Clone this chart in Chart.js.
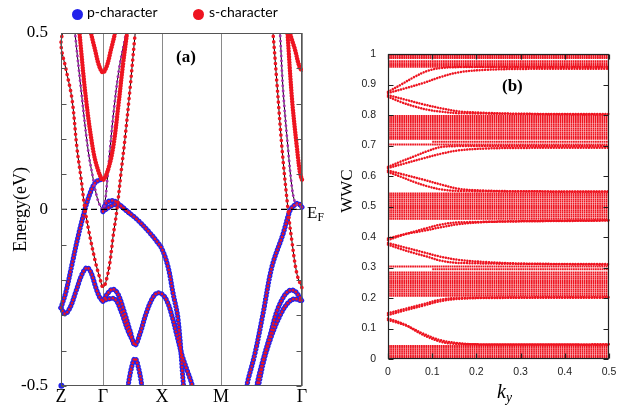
<!DOCTYPE html>
<html><head><meta charset="utf-8">
<script src="https://cdn.jsdelivr.net/npm/chart.js@4.4.1/dist/chart.umd.min.js"></script>
<style>
html,body{margin:0;padding:0;background:#fff;}
#wrap{position:relative;width:629px;height:409px;overflow:hidden;background:#fff;}
canvas{position:absolute;top:0;}
#cA{left:0;} #cB{left:330px;}
.t{position:absolute;white-space:nowrap;line-height:1;color:#000;}
.serif{font-family:'Liberation Serif','DejaVu Serif',serif;}
.lat{font-family:Lato,'Open Sans',sans-serif;font-size:14px;}
.dot{position:absolute;width:11px;height:11px;border-radius:50%;}
sub{font-size:0.68em;vertical-align:-0.3em;}
</style></head><body>
<div id="wrap">
<canvas id="cA" width="330" height="409"></canvas>
<canvas id="cB" width="299" height="409"></canvas>
<div class="dot" style="left:72px;top:9px;background:rgb(35,35,235);"></div>
<div class="t lat" style="left:87px;top:5px;">p-character</div>
<div class="dot" style="left:193px;top:9px;background:rgb(238,20,32);"></div>
<div class="t lat" style="left:209px;top:5px;">s-character</div>
<div class="t serif" style="left:176px;top:48px;font-size:17px;font-weight:bold;">(a)</div>
<div class="t serif" style="left:502px;top:77px;font-size:17px;font-weight:bold;">(b)</div>
<div class="t serif" style="left:307px;top:204px;font-size:17px;">E<sub>F</sub></div>
<div class="t serif" style="left:317px;top:181px;width:60px;height:20px;line-height:20px;text-align:center;font-size:17px;transform:rotate(-90deg);">WWC</div>
<div class="t serif" style="left:497px;top:381px;font-size:20px;font-style:italic;">k<sub>y</sub></div>
</div>
<script>
// ---------- Panel (a): band structure ----------
const kTicks = [0, 0.42, 1.01, 1.60, 2.41];
const kLabels = ['Z', 'Γ', 'X', 'M', 'Γ'];
const energyLabelled = [-0.5, 0, 0.5];
const fermiLevel = [[0, 0], [2.41, 0]];

// s-character bands (black line, red dots)
const sBandA = [[0.035,0.52],[0,0.469],[0.05,0.397],[0.11,0.313],[0.16,0.173],[0.20,0.089],[0.24,0],[0.29,-0.078],[0.35,-0.156],[0.39,-0.196],[0.42,-0.221],[0.45,-0.204],[0.49,-0.148],[0.52,-0.078],[0.56,0],[0.60,0.103],[0.64,0.201],[0.69,0.341],[0.74,0.494],[0.75,0.52]];
const sBandB = [[2.11,0.522],[2.12,0.5],[2.16,0.355],[2.21,0.173],[2.27,0],[2.31,-0.092],[2.36,-0.184],[2.41,-0.223]];
// strong s-character bands around Γ
const sHeavyV = [[0.18,0.52],[0.185,0.5],[0.25,0.313],[0.32,0.17],[0.37,0.112],[0.42,0.084],[0.47,0.112],[0.52,0.173],[0.57,0.285],[0.62,0.411],[0.66,0.5],[0.665,0.52]];
const sHeavyVr = [[2.26,0.52],[2.265,0.5],[2.31,0.313],[2.36,0.173],[2.39,0.103],[2.41,0.084]];
const sHeavyU = [[0.292,0.52],[0.30,0.5],[0.34,0.453],[0.38,0.408],[0.42,0.388],[0.46,0.408],[0.50,0.453],[0.54,0.5],[0.548,0.52]];
const sHeavyUr = [[2.285,0.52],[2.29,0.5],[2.34,0.453],[2.38,0.408],[2.41,0.391]];
// mixed bands (black line, small purple dots)
const mBandA = [[0.135,0.52],[0.14,0.5],[0.20,0.341],[0.27,0.17],[0.32,0.089],[0.37,0.025],[0.42,0],[0.44,0.02],[0.46,0.075],[0.49,0.17],[0.53,0.285],[0.58,0.397],[0.65,0.5],[0.655,0.52]];
const mBandB = [[2.18,0.52],[2.19,0.5],[2.22,0.341],[2.27,0.173],[2.31,0.061],[2.34,0.02],[2.37,0.01],[2.41,0.006]];
// p-character bands (blue rings)
const pCross = [[0,-0.279],[0.05,-0.233],[0.11,-0.156],[0.17,-0.078],[0.24,0],[0.29,0.045],[0.34,0.075],[0.39,0.084],[0.42,0.084]];
const pPeak = [[0,-0.279],[0.04,-0.296],[0.09,-0.279],[0.15,-0.232],[0.21,-0.184],[0.26,-0.165],[0.30,-0.179],[0.35,-0.223],[0.39,-0.251],[0.42,-0.260]];
const pToX = [[0.42,0],[0.46,0.02],[0.52,0.025],[0.57,0.017],[0.64,0],[0.77,-0.031],[0.89,-0.067],[0.97,-0.095],[1.01,-0.112],[1.07,-0.162],[1.12,-0.237],[1.17,-0.31],[1.22,-0.483],[1.23,-0.52]];
const pToX2 = [[0.42,-0.006],[0.48,0.006],[0.54,0.014],[0.59,0.011],[0.64,0],[0.70,-0.014]];
const pValleyUpper = [[0.42,-0.26],[0.47,-0.237],[0.52,-0.226],[0.57,-0.24],[0.63,-0.288],[0.69,-0.344],[0.74,-0.385],[0.79,-0.352],[0.85,-0.296],[0.91,-0.254],[0.96,-0.237],[1.01,-0.24],[1.06,-0.26],[1.11,-0.302],[1.16,-0.358],[1.21,-0.413],[1.26,-0.455],[1.31,-0.497],[1.32,-0.52]];
const pValleyLower = [[0.42,-0.26],[0.47,-0.254],[0.54,-0.254],[0.60,-0.288],[0.67,-0.344],[0.74,-0.385]];
const pSmallPeak = [[0.66,-0.52],[0.70,-0.455],[0.74,-0.422],[0.78,-0.455],[0.82,-0.52]];
const pSteepR = [[1.855,-0.52],[1.86,-0.497],[1.94,-0.408],[2.02,-0.296],[2.11,-0.162],[2.22,-0.07],[2.29,-0.003],[2.33,0.011],[2.36,0.017],[2.39,0.014],[2.41,0.006]];
const pUpperR = [[1.955,-0.52],[1.96,-0.497],[2.02,-0.427],[2.09,-0.358],[2.16,-0.288],[2.23,-0.246],[2.29,-0.229],[2.34,-0.232],[2.38,-0.246],[2.41,-0.26]];
const pLowerR = [[1.96,-0.52],[2.03,-0.427],[2.10,-0.363],[2.18,-0.307],[2.26,-0.268],[2.33,-0.254],[2.41,-0.26]];
const pDotZ = [[0.004,-0.5]];

// ---------- Panel (b): Wannier charge centres ----------
const kyTickValues = [0, 0.1, 0.2, 0.3, 0.4, 0.5];
const wccTickValues = [0, 0.1, 0.2, 0.3, 0.4, 0.5, 0.6, 0.7, 0.8, 0.9, 1];
const wccRowsTop = [0.997, 0.992, 0.987, 0.976, 0.970, 0.964, 0.958];
const wccRowsUpper = [0.797, 0.790, 0.784, 0.777, 0.770, 0.763, 0.756, 0.749, 0.742, 0.735, 0.728, 0.722, 0.703];
const wccRowsMiddle = [0.543, 0.537, 0.530, 0.523, 0.516, 0.509, 0.502, 0.495, 0.488, 0.481, 0.474, 0.467, 0.460];
const wccRowsLower = [0.303, 0.284, 0.277, 0.270, 0.263, 0.256, 0.249, 0.242, 0.235, 0.228, 0.221, 0.214, 0.207];
const wccRowsBottom = [0.043, 0.037, 0.030, 0.024, 0.017, 0.010, 0.004];
const wccLateRows = [0.712, 0.294];
const wccLateStart = [0.10, 0.10];
const wccCurves = [
  [[0,0.876],[0.03,0.9],[0.06,0.925],[0.09,0.945],[0.12,0.954],[0.16,0.957],[0.5,0.957]],
  [[0,0.872],[0.04,0.888],[0.08,0.905],[0.12,0.925],[0.16,0.94],[0.22,0.948],[0.3,0.951],[0.5,0.952]],
  [[0,0.865],[0.04,0.85],[0.08,0.835],[0.12,0.822],[0.16,0.812],[0.22,0.807],[0.3,0.804],[0.5,0.803]],
  [[0,0.86],[0.03,0.842],[0.06,0.828],[0.09,0.817],[0.12,0.811],[0.16,0.806],[0.5,0.801]],
  [[0,0.63],[0.03,0.648],[0.06,0.665],[0.09,0.682],[0.12,0.695],[0.16,0.698],[0.5,0.698]],
  [[0,0.626],[0.04,0.642],[0.08,0.658],[0.12,0.673],[0.16,0.684],[0.22,0.69],[0.3,0.692],[0.5,0.693]],
  [[0,0.618],[0.04,0.603],[0.08,0.588],[0.12,0.572],[0.16,0.558],[0.22,0.552],[0.3,0.55],[0.5,0.549]],
  [[0,0.613],[0.03,0.597],[0.06,0.58],[0.09,0.566],[0.12,0.556],[0.16,0.551],[0.5,0.548]],
  [[0,0.39],[0.03,0.405],[0.06,0.418],[0.09,0.43],[0.12,0.441],[0.16,0.448],[0.5,0.454]],
  [[0,0.395],[0.04,0.41],[0.08,0.42],[0.12,0.432],[0.16,0.442],[0.22,0.449],[0.3,0.452],[0.5,0.455]],
  [[0,0.38],[0.04,0.365],[0.08,0.35],[0.12,0.335],[0.16,0.325],[0.22,0.318],[0.3,0.313],[0.5,0.311]],
  [[0,0.375],[0.03,0.36],[0.06,0.347],[0.09,0.335],[0.12,0.322],[0.16,0.315],[0.5,0.309]],
  [[0,0.144],[0.04,0.16],[0.08,0.175],[0.12,0.19],[0.16,0.197],[0.22,0.2],[0.5,0.201]],
  [[0,0.15],[0.04,0.165],[0.08,0.18],[0.12,0.195],[0.16,0.2],[0.5,0.203]],
  [[0,0.133],[0.04,0.112],[0.065,0.09],[0.09,0.072],[0.118,0.057],[0.14,0.051],[0.2,0.048],[0.5,0.047]],
  [[0,0.128],[0.04,0.11],[0.08,0.083],[0.118,0.062],[0.16,0.052],[0.2,0.048],[0.5,0.048]]
];

// ---------- styling / construction ----------
const RED = 'rgb(238,20,32)';
const BLUE = 'rgb(35,35,235)';
const PURPLE = 'rgb(165,45,175)';
const SERIF = "'Liberation Serif','DejaVu Serif',serif";
const SANS = "'Liberation Sans','DejaVu Sans',sans-serif";

function pts(a){ return a.map(p => ({x: p[0], y: p[1]})); }
function line(a, o){
  return Object.assign({data: pts(a), showLine: true, pointRadius: 0, pointHoverRadius: 0,
    tension: 0.35, fill: false, clip: {left: 5, right: 5, top: 0, bottom: 0}}, o);
}
const dsA = [];
function blackLine(b){ dsA.push(line(b, {borderColor: '#000', borderWidth: 1, order: 6})); }
[sBandA, sBandB].forEach(b => { blackLine(b);
  dsA.push(line(b, {borderColor: RED, borderWidth: 3.6, borderDash: [0.01, 5.5], borderCapStyle: 'round', order: 2})); });
[sHeavyV, sHeavyVr, sHeavyU, sHeavyUr].forEach(b => { blackLine(b);
  dsA.push(line(b, {borderColor: RED, borderWidth: 4.4, borderDash: [0.01, 2.8], borderCapStyle: 'round', order: 2})); });
[mBandA, mBandB].forEach(b => { blackLine(b);
  dsA.push(line(b, {borderColor: PURPLE, borderWidth: 2.8, borderDash: [0.01, 5], borderCapStyle: 'round', order: 3})); });
[pCross, pPeak, pToX, pToX2, pValleyUpper, pValleyLower, pSmallPeak, pSteepR, pUpperR, pLowerR].forEach(b => { blackLine(b);
  dsA.push(line(b, {borderColor: BLUE, borderWidth: 5.2, borderDash: [0.01, 3.4], borderCapStyle: 'round', order: 4}));
  dsA.push(line(b, {borderColor: RED, borderWidth: 2.6, borderDash: [0.01, 3.4], borderCapStyle: 'round', order: 3})); });
dsA.push({data: pts(pDotZ), showLine: false, pointRadius: 3, pointBackgroundColor: BLUE, pointBorderWidth: 0, order: 3, clip: 5});
dsA.push(line(fermiLevel, {borderColor: '#000', borderWidth: 1.4, borderDash: [6, 4], tension: 0, order: 1}));

const dsB = [];
function rowDs(v, start){ return line([[start, v], [0.5, v]], {borderColor: RED, borderWidth: 2, borderDash: [1.7, 0.5], tension: 0, order: 3, clip: 0}); }
[wccRowsTop, wccRowsUpper, wccRowsMiddle, wccRowsLower, wccRowsBottom].forEach(g => g.forEach(v => dsB.push(rowDs(v, 0))));
wccLateRows.forEach((v, i) => dsB.push(rowDs(v, wccLateStart[i])));
wccCurves.forEach(c => dsB.push(line(c, {borderColor: RED, borderWidth: 2.5, borderDash: [0.01, 2.7], borderCapStyle: 'round', order: 2, clip: 2})));

const frameTicks = {
  id: 'frameTicks',
  afterDatasetsDraw(chart, args, o){
    const {ctx, chartArea: ca, scales} = chart;
    ctx.save();
    ctx.strokeStyle = o.color; ctx.lineWidth = o.width;
    const L = Math.round(ca.left) + 0.5, R = Math.round(ca.right) - 0.5, T = Math.round(ca.top) + 0.5, B = Math.round(ca.bottom) - 0.5;
    ctx.beginPath();
    if (o.yTicks) scales.y.ticks.forEach(t => {
      const y = Math.round(scales.y.getPixelForValue(t.value)) + 0.5;
      ctx.moveTo(L, y); ctx.lineTo(L + o.len, y); ctx.moveTo(R, y); ctx.lineTo(R - o.len, y);
    });
    if (o.xTicks) scales.x.ticks.forEach(t => {
      const x = Math.round(scales.x.getPixelForValue(t.value)) + 0.5;
      ctx.moveTo(x, B); ctx.lineTo(x, B - o.len); ctx.moveTo(x, T); ctx.lineTo(x, T + o.len);
    });
    ctx.stroke();
    ctx.strokeRect(L, T, R - L, B - T);
    ctx.restore();
  }
};

const near = (arr, v) => arr.some(l => Math.abs(l - v) < 1e-6);
const fmt = v => String(Math.round(v * 10) / 10);

new Chart(document.getElementById('cA'), {
  type: 'scatter',
  data: {datasets: dsA},
  plugins: [frameTicks],
  options: {
    responsive: false, animation: false, devicePixelRatio: 1, events: [],
    layout: {padding: {left: 0, right: 28, top: 33, bottom: 0}},
    plugins: {legend: {display: false}, tooltip: {enabled: false},
      frameTicks: {color: '#555', width: 1, len: 5, yTicks: true, xTicks: false}},
    scales: {
      x: {type: 'linear', min: 0, max: 2.41,
        afterBuildTicks: s => { s.ticks = kTicks.map(v => ({value: v})); },
        ticks: {callback: (v, i) => kLabels[i], font: {family: SERIF, size: 18}, color: '#000', padding: 1, autoSkip: false, maxRotation: 0},
        grid: {color: '#8a8a8a', lineWidth: 1, drawTicks: false}, border: {display: false},
        afterFit: s => { s.height = 18; }},
      y: {type: 'linear', min: -0.5, max: 0.5,
        ticks: {stepSize: 0.1, autoSkip: false, callback: v => near(energyLabelled, v) ? fmt(v) : '', font: {family: SERIF, size: 17}, color: '#000', padding: 13},
        grid: {display: false, drawTicks: false}, border: {display: false},
        title: {display: true, text: 'Energy(eV)', font: {family: SERIF, size: 18}, color: '#000', padding: {top: 10, bottom: 0}},
        afterFit: s => { s.width = 61; }}
    }
  }
});

new Chart(document.getElementById('cB'), {
  type: 'scatter',
  data: {datasets: dsB},
  plugins: [frameTicks],
  options: {
    responsive: false, animation: false, devicePixelRatio: 1, events: [],
    layout: {padding: {left: 0, right: 20, top: 54, bottom: 0}},
    plugins: {legend: {display: false}, tooltip: {enabled: false},
      frameTicks: {color: '#222', width: 1.2, len: 5, yTicks: true, xTicks: true}},
    scales: {
      x: {type: 'linear', min: 0, max: 0.5,
        afterBuildTicks: s => { s.ticks = kyTickValues.map(v => ({value: v})); },
        ticks: {callback: v => fmt(v), font: {family: SANS, size: 10.5}, color: '#222', padding: 7, autoSkip: false, maxRotation: 0},
        grid: {display: false, drawTicks: false}, border: {display: false},
        afterFit: s => { s.height = 50; }},
      y: {type: 'linear', min: 0, max: 1,
        afterBuildTicks: s => { s.ticks = wccTickValues.map(v => ({value: v})); },
        ticks: {callback: v => fmt(v), font: {family: SANS, size: 10.5}, color: '#222', padding: 12, autoSkip: false},
        grid: {display: false, drawTicks: false}, border: {display: false},
        afterFit: s => { s.width = 58; }}
    }
  }
});
</script>
</body></html>
